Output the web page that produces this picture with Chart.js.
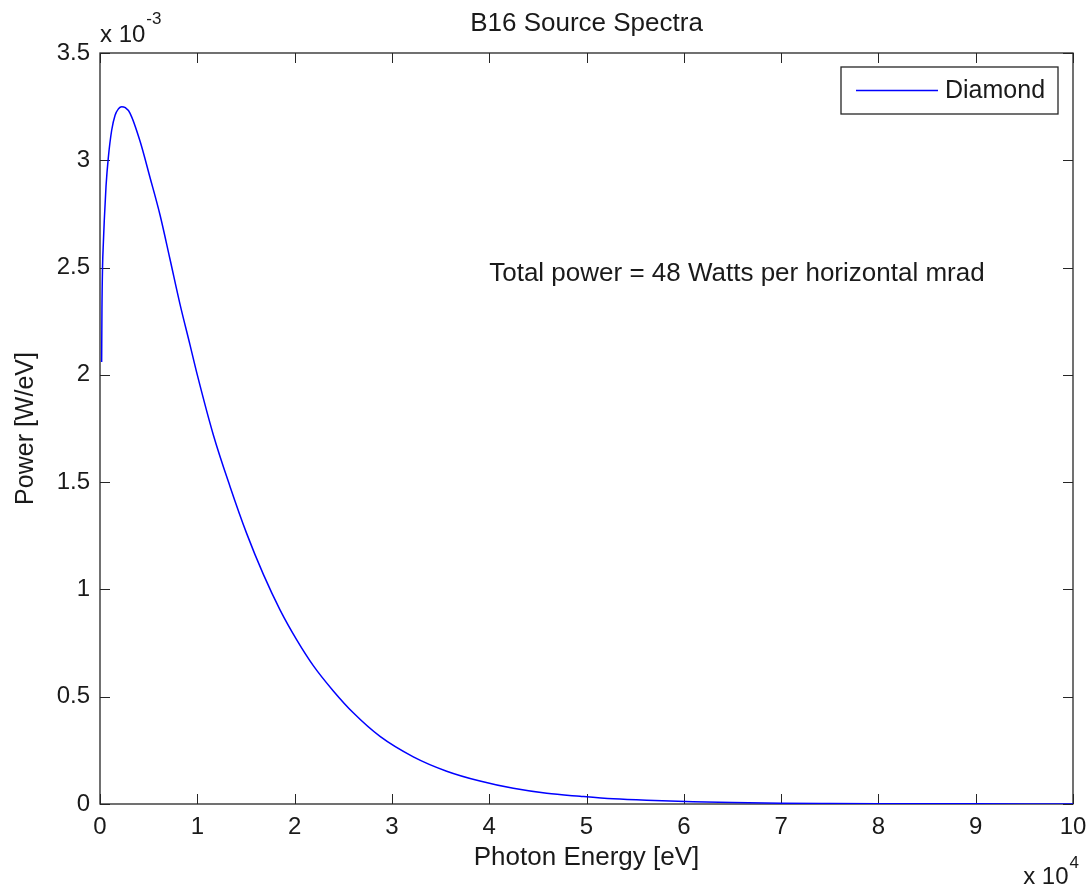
<!DOCTYPE html>
<html>
<head>
<meta charset="utf-8">
<title>B16 Source Spectra</title>
<script src="https://cdn.jsdelivr.net/npm/chart.js@4.4.1/dist/chart.umd.min.js"></script>
<style>
    body { margin: 0; background: #fff; }
    #wrap { width: 1088px; height: 889px; }
</style>
</head>
<body>
<div id="wrap"><canvas id="spectrumChart" width="1088" height="889"></canvas></div>
<script>
// Photon energy [eV] and power [x 1e-3 W/eV]
const energy = [170, 200, 260, 350, 440, 620, 850, 1200, 1550, 1900, 2230, 2600, 3080, 4110, 5140,
    6170, 7190, 8220, 9250, 10000, 11650, 13360, 15080, 16790, 18500, 20220, 21920, 23980, 26030,
    28780, 32200, 35630, 39050, 42480, 45910, 49330, 52750, 56180, 60950, 65000, 70000, 75000,
    80000, 85000, 90000, 95000, 100000];
const powerMilli = [2.06, 2.3, 2.5, 2.62, 2.72, 2.88, 3.01, 3.14, 3.21, 3.24, 3.25, 3.245, 3.22, 3.09, 2.92,
    2.745, 2.54, 2.33, 2.14, 2.0, 1.72, 1.48, 1.26, 1.07, 0.905, 0.765, 0.645, 0.527, 0.425,
    0.315, 0.22, 0.153, 0.107, 0.073, 0.05, 0.036, 0.024, 0.017, 0.011, 0.007, 0.004, 0.0025,
    0.0015, 0.001, 0.0006, 0.0004, 0.0003];

const xTicks = [0, 1, 2, 3, 4, 5, 6, 7, 8, 9, 10];        // x 10^4
const yTicks = [0, 0.5, 1, 1.5, 2, 2.5, 3, 3.5];          // x 10^-3

const FONT = "'Liberation Sans', Arial, sans-serif";
const TEXT = '#1a1a1a';

// Box, inward ticks, title, exponents, note and legend (MATLAB look)
const matlabAxes = {
    id: 'matlabAxes',
    beforeDatasetsDraw(chart) {
        const { ctx, chartArea: a, scales: { x, y } } = chart;
        ctx.save();
        ctx.strokeStyle = '#262626';
        ctx.lineWidth = 1;
        ctx.beginPath();
        xTicks.forEach(t => {
            const px = Math.round(x.getPixelForValue(t * 1e4)) + 0.5;
            ctx.moveTo(px, a.bottom); ctx.lineTo(px, a.bottom - 10);
            ctx.moveTo(px, a.top); ctx.lineTo(px, a.top + 10);
        });
        yTicks.forEach(t => {
            const py = Math.round(y.getPixelForValue(t)) + 0.5;
            ctx.moveTo(a.left, py); ctx.lineTo(a.left + 10, py);
            ctx.moveTo(a.right, py); ctx.lineTo(a.right - 10, py);
        });
        ctx.stroke();
        ctx.lineWidth = 1.3;
        ctx.strokeRect(a.left, a.top, a.right - a.left, a.bottom - a.top);
        ctx.restore();
    },
    afterDraw(chart) {
        const { ctx, chartArea: a, scales: { x, y } } = chart;
        ctx.save();
        ctx.fillStyle = TEXT;

        // title
        ctx.font = `26px ${FONT}`;
        ctx.textAlign = 'center';
        ctx.textBaseline = 'alphabetic';
        ctx.fillText('B16 Source Spectra', (a.left + a.right) / 2, 31);

        // y exponent
        ctx.textAlign = 'left';
        ctx.font = `24px ${FONT}`;
        ctx.fillText('x 10', a.left, 42);
        let w = ctx.measureText('x 10').width;
        ctx.font = `17px ${FONT}`;
        ctx.fillText('-3', a.left + w + 1, 24);

        // x exponent
        ctx.font = `17px ${FONT}`;
        const ew = ctx.measureText('4').width;
        ctx.fillText('4', 1079 - ew, 868);
        ctx.font = `24px ${FONT}`;
        ctx.textAlign = 'right';
        ctx.fillText('x 10', 1079 - ew - 1, 884);

        // note
        ctx.textAlign = 'left';
        ctx.font = `26px ${FONT}`;
        ctx.fillText('Total power = 48 Watts per horizontal mrad',
            x.getPixelForValue(40000), y.getPixelForValue(2.5) + 13);

        // legend
        const ds = chart.data.datasets[0];
        ctx.fillStyle = '#fff';
        ctx.fillRect(841, 67, 217, 47);
        ctx.strokeStyle = '#262626';
        ctx.lineWidth = 1.3;
        ctx.strokeRect(841, 67, 217, 47);
        ctx.strokeStyle = ds.borderColor;
        ctx.lineWidth = ds.borderWidth;
        ctx.beginPath();
        ctx.moveTo(856, 90.5); ctx.lineTo(938, 90.5);
        ctx.stroke();
        ctx.fillStyle = TEXT;
        ctx.font = `25px ${FONT}`;
        ctx.textBaseline = 'middle';
        ctx.fillText(ds.label, 945, 91);
        ctx.restore();
    }
};

new Chart(document.getElementById('spectrumChart'), {
    type: 'line',
    data: {
        labels: energy,
        datasets: [{
            label: 'Diamond',
            data: energy.map((e, i) => ({ x: e, y: powerMilli[i] })),
            borderColor: '#0000ff',
            borderWidth: 1.5,
            pointRadius: 0,
            fill: false,
            cubicInterpolationMode: 'monotone'
        }]
    },
    options: {
        responsive: false,
        animation: false,
        layout: { padding: { top: 53, right: 15, left: 0, bottom: 0 } },
        plugins: {
            legend: { display: false },
            title: { display: false },
            tooltip: { enabled: false }
        },
        scales: {
            x: {
                type: 'linear',
                min: 0,
                max: 100000,
                grid: { display: false, drawTicks: false },
                border: { display: false },
                afterFit(scale) {
                    scale.height = 85;
                    scale.paddingLeft = 0;
                    scale.paddingRight = 0;
                },
                afterBuildTicks(scale) { scale.ticks = xTicks.map(v => ({ value: v * 1e4 })); },
                ticks: {
                    padding: 9,
                    maxRotation: 0,
                    color: TEXT,
                    font: { family: FONT, size: 24 },
                    callback: v => String(Math.round(v / 1e4))
                },
                title: {
                    display: true,
                    text: 'Photon Energy [eV]',
                    color: TEXT,
                    font: { family: FONT, size: 26 },
                    padding: { top: 0, bottom: 16 }
                }
            },
            y: {
                type: 'linear',
                min: 0,
                max: 3.5,
                grid: { display: false, drawTicks: false },
                border: { display: false },
                afterFit(scale) {
                    scale.width = 100;
                    scale.paddingTop = 0;
                    scale.paddingBottom = 0;
                },
                afterBuildTicks(scale) { scale.ticks = yTicks.map(v => ({ value: v })); },
                ticks: {
                    padding: 10,
                    color: TEXT,
                    font: { family: FONT, size: 24 },
                    callback: v => String(Math.round(v * 10) / 10)
                },
                title: {
                    display: true,
                    text: 'Power [W/eV]',
                    color: TEXT,
                    font: { family: FONT, size: 25 },
                    padding: { top: 11, bottom: 0 }
                }
            }
        }
    },
    plugins: [matlabAxes]
});
</script>
</body>
</html>
